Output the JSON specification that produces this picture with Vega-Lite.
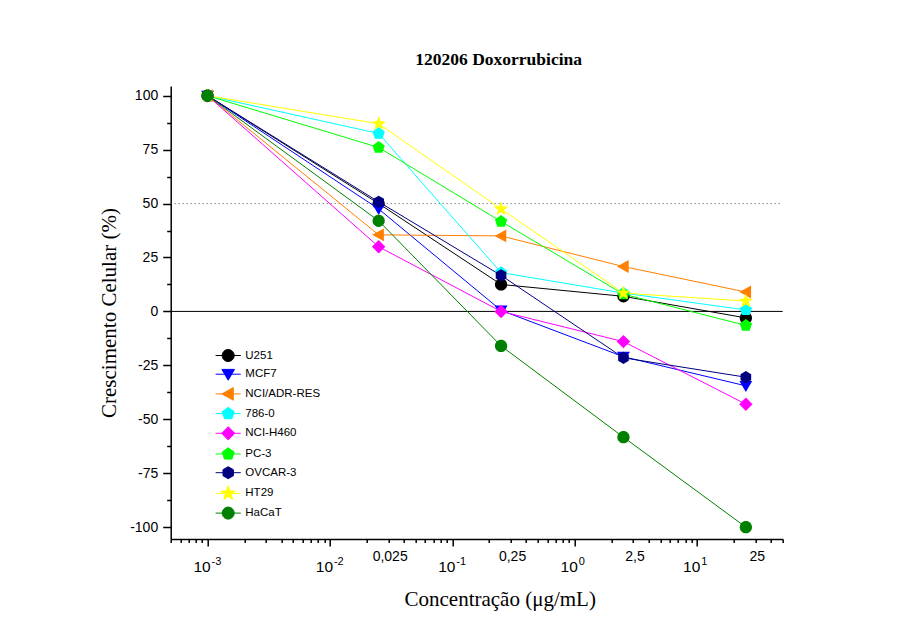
{
  "$schema": "https://vega.github.io/schema/vega-lite/v6.json",
  "width": 612,
  "height": 453,
  "autosize": {"type": "none"},
  "padding": {"left": 170.7, "top": 86, "right": 114.3, "bottom": 98},
  "background": "white",
  "config": {
    "view": {"stroke": null},
    "font": "Liberation Sans",
    "axis": {"grid": false, "domainColor": "black", "tickColor": "black", "labelColor": "black", "titleColor": "black", "labelFont": "Liberation Sans", "titleFont": "Liberation Serif", "titleFontWeight": "normal", "labelFlush": false, "labelOverlap": false}
  },
  "title": {"text": "120206 Doxorrubicina", "font": "Liberation Serif", "fontSize": 17.5, "fontWeight": "bold", "color": "black", "dx": 22, "offset": 3.5, "baseline": "alphabetic", "anchor": "middle"},
  "datasets": {
    "cells": [
      {"linhagem": "U251", "conc": 0.001, "crescimento": 100},
      {"linhagem": "U251", "conc": 0.025, "crescimento": 50},
      {"linhagem": "U251", "conc": 0.25, "crescimento": 12.5},
      {"linhagem": "U251", "conc": 2.5, "crescimento": 7},
      {"linhagem": "U251", "conc": 25, "crescimento": -3},
      {"linhagem": "MCF7", "conc": 0.001, "crescimento": 100},
      {"linhagem": "MCF7", "conc": 0.025, "crescimento": 47.5},
      {"linhagem": "MCF7", "conc": 0.25, "crescimento": 0.5},
      {"linhagem": "MCF7", "conc": 2.5, "crescimento": -21},
      {"linhagem": "MCF7", "conc": 25, "crescimento": -34.5},
      {"linhagem": "NCI/ADR-RES", "conc": 0.001, "crescimento": 100},
      {"linhagem": "NCI/ADR-RES", "conc": 0.025, "crescimento": 35.5},
      {"linhagem": "NCI/ADR-RES", "conc": 0.25, "crescimento": 35},
      {"linhagem": "NCI/ADR-RES", "conc": 2.5, "crescimento": 20.8},
      {"linhagem": "NCI/ADR-RES", "conc": 25, "crescimento": 9},
      {"linhagem": "786-0", "conc": 0.001, "crescimento": 100},
      {"linhagem": "786-0", "conc": 0.025, "crescimento": 82.5},
      {"linhagem": "786-0", "conc": 0.25, "crescimento": 18},
      {"linhagem": "786-0", "conc": 2.5, "crescimento": 8.5},
      {"linhagem": "786-0", "conc": 25, "crescimento": 0.7},
      {"linhagem": "NCI-H460", "conc": 0.001, "crescimento": 100},
      {"linhagem": "NCI-H460", "conc": 0.025, "crescimento": 30},
      {"linhagem": "NCI-H460", "conc": 0.25, "crescimento": 0},
      {"linhagem": "NCI-H460", "conc": 2.5, "crescimento": -14},
      {"linhagem": "NCI-H460", "conc": 25, "crescimento": -43},
      {"linhagem": "PC-3", "conc": 0.001, "crescimento": 100},
      {"linhagem": "PC-3", "conc": 0.025, "crescimento": 76},
      {"linhagem": "PC-3", "conc": 0.25, "crescimento": 41.7},
      {"linhagem": "PC-3", "conc": 2.5, "crescimento": 8},
      {"linhagem": "PC-3", "conc": 25, "crescimento": -6.5},
      {"linhagem": "OVCAR-3", "conc": 0.001, "crescimento": 100},
      {"linhagem": "OVCAR-3", "conc": 0.025, "crescimento": 50.8},
      {"linhagem": "OVCAR-3", "conc": 0.25, "crescimento": 16.7},
      {"linhagem": "OVCAR-3", "conc": 2.5, "crescimento": -21.5},
      {"linhagem": "OVCAR-3", "conc": 25, "crescimento": -30.5},
      {"linhagem": "HT29", "conc": 0.001, "crescimento": 100},
      {"linhagem": "HT29", "conc": 0.025, "crescimento": 87},
      {"linhagem": "HT29", "conc": 0.25, "crescimento": 47.5},
      {"linhagem": "HT29", "conc": 2.5, "crescimento": 8.5},
      {"linhagem": "HT29", "conc": 25, "crescimento": 4.8},
      {"linhagem": "HaCaT", "conc": 0.001, "crescimento": 100},
      {"linhagem": "HaCaT", "conc": 0.025, "crescimento": 42},
      {"linhagem": "HaCaT", "conc": 0.25, "crescimento": -16},
      {"linhagem": "HaCaT", "conc": 2.5, "crescimento": -58.3},
      {"linhagem": "HaCaT", "conc": 25, "crescimento": -100}
    ]
  },
  "layer": [
    {
      "data": {"values": [{"ref": 50}]},
      "mark": {"type": "rule", "color": "#555555", "strokeDash": [1, 3], "strokeWidth": 1},
      "encoding": {
        "x": {"datum": 0.0005, "type": "quantitative", "scale": {"type": "log", "domain": [0.0005, 50], "nice": false},
          "axis": {"orient": "bottom", "values": [0.0005, 0.0006, 0.0007, 0.0008, 0.0009, 0.002, 0.003, 0.004, 0.005, 0.006, 0.007, 0.008, 0.009, 0.02, 0.03, 0.04, 0.05, 0.06, 0.07, 0.08, 0.09, 0.2, 0.3, 0.4, 0.5, 0.6, 0.7, 0.8, 0.9, 2, 3, 4, 5, 6, 7, 8, 9, 20, 30, 40, 50], "labels": false, "domain": false, "ticks": true, "tickSize": 3.5, "tickWidth": 1.5, "title": null}},
        "x2": {"datum": 50},
        "y": {"field": "ref", "type": "quantitative", "scale": {"domain": [-105.5, 104.5], "nice": false, "zero": false},
          "axis": {"orient": "left", "values": [-87.5, -62.5, -37.5, -12.5, 12.5, 37.5, 62.5, 87.5], "labels": false, "domain": false, "tickSize": 4, "tickWidth": 1.5, "title": null}}
      }
    },
    {
      "data": {"values": [{"ref": 0}]},
      "mark": {"type": "rule", "color": "black", "strokeWidth": 1},
      "encoding": {
        "x": {"datum": 0.0005, "type": "quantitative",
          "axis": {"orient": "bottom", "values": [0.025, 0.25, 2.5, 25], "labelExpr": "replace(toString(datum.value), '.', ',')", "domain": false, "ticks": false, "tickSize": 0, "labelPadding": 10, "labelFontSize": 14, "labelOffset": 11, "title": null}},
        "x2": {"datum": 50},
        "y": {"field": "ref", "type": "quantitative", "axis": null}
      }
    },
    {
      "data": {"name": "cells"},
      "mark": {"type": "line", "strokeWidth": 1},
      "encoding": {
        "x": {"field": "conc", "type": "quantitative",
          "axis": {"orient": "bottom", "values": [0.001, 0.01, 0.1, 1, 10], "labelExpr": "'10'", "labelFontSize": 15.5, "labelOffset": -6, "tickSize": 7, "tickWidth": 1.5, "domainWidth": 1.5, "labelPadding": 13, "title": "Concentração (μg/mL)", "titleFontSize": 21, "titlePadding": 14, "titleX": 329}},
        "y": {"field": "crescimento", "type": "quantitative",
          "axis": {"orient": "left", "values": [-100, -75, -50, -25, 0, 25, 50, 75, 100], "labelExpr": "toString(datum.value)", "tickSize": 8, "tickWidth": 1.5, "domainWidth": 1.5, "labelPadding": 5, "labelFontSize": 14, "title": "Crescimento Celular (%)", "titleFontSize": 21, "titlePadding": 10}},
        "color": {"field": "linhagem", "type": "nominal",
          "scale": {"domain": ["U251", "MCF7", "NCI/ADR-RES", "786-0", "NCI-H460", "PC-3", "OVCAR-3", "HT29", "HaCaT"], "range": ["#000000", "#0000FF", "#FF8000", "#00FFFF", "#FF00FF", "#00FF00", "#000080", "#FFFF00", "#008000"]},
          "legend": {"orient": "none", "legendX": 51, "legendY": 263, "title": null, "padding": 0, "rowPadding": 2.7, "labelFontSize": 11.5, "labelFont": "Liberation Sans", "labelColor": "black", "symbolSize": 144, "labelOffset": 10.6, "symbolStrokeWidth": 1}}
      }
    },
    {
      "data": {"name": "cells"},
      "transform": [{"filter": "false"}],
      "mark": {"type": "point", "filled": true, "opacity": 1},
      "encoding": {
        "x": {"field": "conc", "type": "quantitative",
          "axis": {"orient": "bottom", "values": [0.001, 0.01, 0.1, 1, 10], "labelExpr": "'' + round(log(datum.value) / LN10)", "labelFontSize": 11, "labelAlign": "left", "labelOffset": 3.5, "domain": false, "ticks": false, "tickSize": 0, "labelPadding": 16, "title": null}},
        "y": {"field": "crescimento", "type": "quantitative", "axis": null},
        "color": {"field": "linhagem", "type": "nominal"},
        "shape": {"field": "linhagem", "type": "nominal",
          "scale": {"domain": ["U251", "MCF7", "NCI/ADR-RES", "786-0", "NCI-H460", "PC-3", "OVCAR-3", "HT29", "HaCaT"],
            "range": [
              "M-2.1,0H2.1M1,0A1,1,0,1,1,-1,0A1,1,0,1,1,1,0Z",
              "M-2.1,0H2.1M-1.05,-0.8L1.05,-0.8L0,1Z",
              "M-2.1,0H2.1M-1.05,0L0.85,-1.05L0.85,1.05Z",
              "M-2.1,0H2.1M0,-1.05L1,-0.32L0.62,0.85L-0.62,0.85L-1,-0.32Z",
              "M-2.1,0H2.1M0,-1.1L1.1,0L0,1.1L-1.1,0Z",
              "M-2.1,0H2.1M0,-1.05L1,-0.32L0.62,0.85L-0.62,0.85L-1,-0.32Z",
              "M-2.1,0H2.1M0,-1L0.87,-0.5L0.87,0.5L0,1L-0.87,0.5L-0.87,-0.5Z",
              "M-2.1,0H2.1M0,-1.25L0.294,-0.405L1.189,-0.386L0.476,0.155L0.735,1.011L0,0.5L-0.735,1.011L-0.476,0.155L-1.189,-0.386L-0.294,-0.405Z",
              "M-2.1,0H2.1M1,0A1,1,0,1,1,-1,0A1,1,0,1,1,1,0Z"
            ]}}
      }
    },
    {"data": {"name": "cells"}, "transform": [{"filter": {"field": "linhagem", "equal": "U251"}}],
     "mark": {"type": "point", "filled": true, "opacity": 1, "size": 150, "shape": "M1,0A1,1,0,1,1,-1,0A1,1,0,1,1,1,0Z"},
     "encoding": {"x": {"field": "conc", "type": "quantitative", "axis": null}, "y": {"field": "crescimento", "type": "quantitative", "axis": null}, "color": {"field": "linhagem", "type": "nominal"}}},
    {"data": {"name": "cells"}, "transform": [{"filter": {"field": "linhagem", "equal": "MCF7"}}],
     "mark": {"type": "point", "filled": true, "opacity": 1, "size": 150, "shape": "M-1.05,-0.8L1.05,-0.8L0,1Z"},
     "encoding": {"x": {"field": "conc", "type": "quantitative", "axis": null}, "y": {"field": "crescimento", "type": "quantitative", "axis": null}, "color": {"field": "linhagem", "type": "nominal"}}},
    {"data": {"name": "cells"}, "transform": [{"filter": {"field": "linhagem", "equal": "NCI/ADR-RES"}}],
     "mark": {"type": "point", "filled": true, "opacity": 1, "size": 150, "shape": "M-1.05,0L0.85,-1.05L0.85,1.05Z"},
     "encoding": {"x": {"field": "conc", "type": "quantitative", "axis": null}, "y": {"field": "crescimento", "type": "quantitative", "axis": null}, "color": {"field": "linhagem", "type": "nominal"}}},
    {"data": {"name": "cells"}, "transform": [{"filter": {"field": "linhagem", "equal": "786-0"}}],
     "mark": {"type": "point", "filled": true, "opacity": 1, "size": 150, "shape": "M0,-1.05L1,-0.32L0.62,0.85L-0.62,0.85L-1,-0.32Z"},
     "encoding": {"x": {"field": "conc", "type": "quantitative", "axis": null}, "y": {"field": "crescimento", "type": "quantitative", "axis": null}, "color": {"field": "linhagem", "type": "nominal"}}},
    {"data": {"name": "cells"}, "transform": [{"filter": {"field": "linhagem", "equal": "NCI-H460"}}],
     "mark": {"type": "point", "filled": true, "opacity": 1, "size": 150, "shape": "M0,-1.1L1.1,0L0,1.1L-1.1,0Z"},
     "encoding": {"x": {"field": "conc", "type": "quantitative", "axis": null}, "y": {"field": "crescimento", "type": "quantitative", "axis": null}, "color": {"field": "linhagem", "type": "nominal"}}},
    {"data": {"name": "cells"}, "transform": [{"filter": {"field": "linhagem", "equal": "PC-3"}}],
     "mark": {"type": "point", "filled": true, "opacity": 1, "size": 150, "shape": "M0,-1.05L1,-0.32L0.62,0.85L-0.62,0.85L-1,-0.32Z"},
     "encoding": {"x": {"field": "conc", "type": "quantitative", "axis": null}, "y": {"field": "crescimento", "type": "quantitative", "axis": null}, "color": {"field": "linhagem", "type": "nominal"}}},
    {"data": {"name": "cells"}, "transform": [{"filter": {"field": "linhagem", "equal": "OVCAR-3"}}],
     "mark": {"type": "point", "filled": true, "opacity": 1, "size": 150, "shape": "M0,-1L0.87,-0.5L0.87,0.5L0,1L-0.87,0.5L-0.87,-0.5Z"},
     "encoding": {"x": {"field": "conc", "type": "quantitative", "axis": null}, "y": {"field": "crescimento", "type": "quantitative", "axis": null}, "color": {"field": "linhagem", "type": "nominal"}}},
    {"data": {"name": "cells"}, "transform": [{"filter": {"field": "linhagem", "equal": "HT29"}}],
     "mark": {"type": "point", "filled": true, "opacity": 1, "size": 150, "shape": "M0,-1.25L0.294,-0.405L1.189,-0.386L0.476,0.155L0.735,1.011L0,0.5L-0.735,1.011L-0.476,0.155L-1.189,-0.386L-0.294,-0.405Z"},
     "encoding": {"x": {"field": "conc", "type": "quantitative", "axis": null}, "y": {"field": "crescimento", "type": "quantitative", "axis": null}, "color": {"field": "linhagem", "type": "nominal"}}},
    {"data": {"name": "cells"}, "transform": [{"filter": {"field": "linhagem", "equal": "HaCaT"}}],
     "mark": {"type": "point", "filled": true, "opacity": 1, "size": 150, "shape": "M1,0A1,1,0,1,1,-1,0A1,1,0,1,1,1,0Z"},
     "encoding": {"x": {"field": "conc", "type": "quantitative", "axis": null}, "y": {"field": "crescimento", "type": "quantitative", "axis": null}, "color": {"field": "linhagem", "type": "nominal"}}}
  ],
  "resolve": {"axis": {"x": "independent", "y": "independent"}}
}
